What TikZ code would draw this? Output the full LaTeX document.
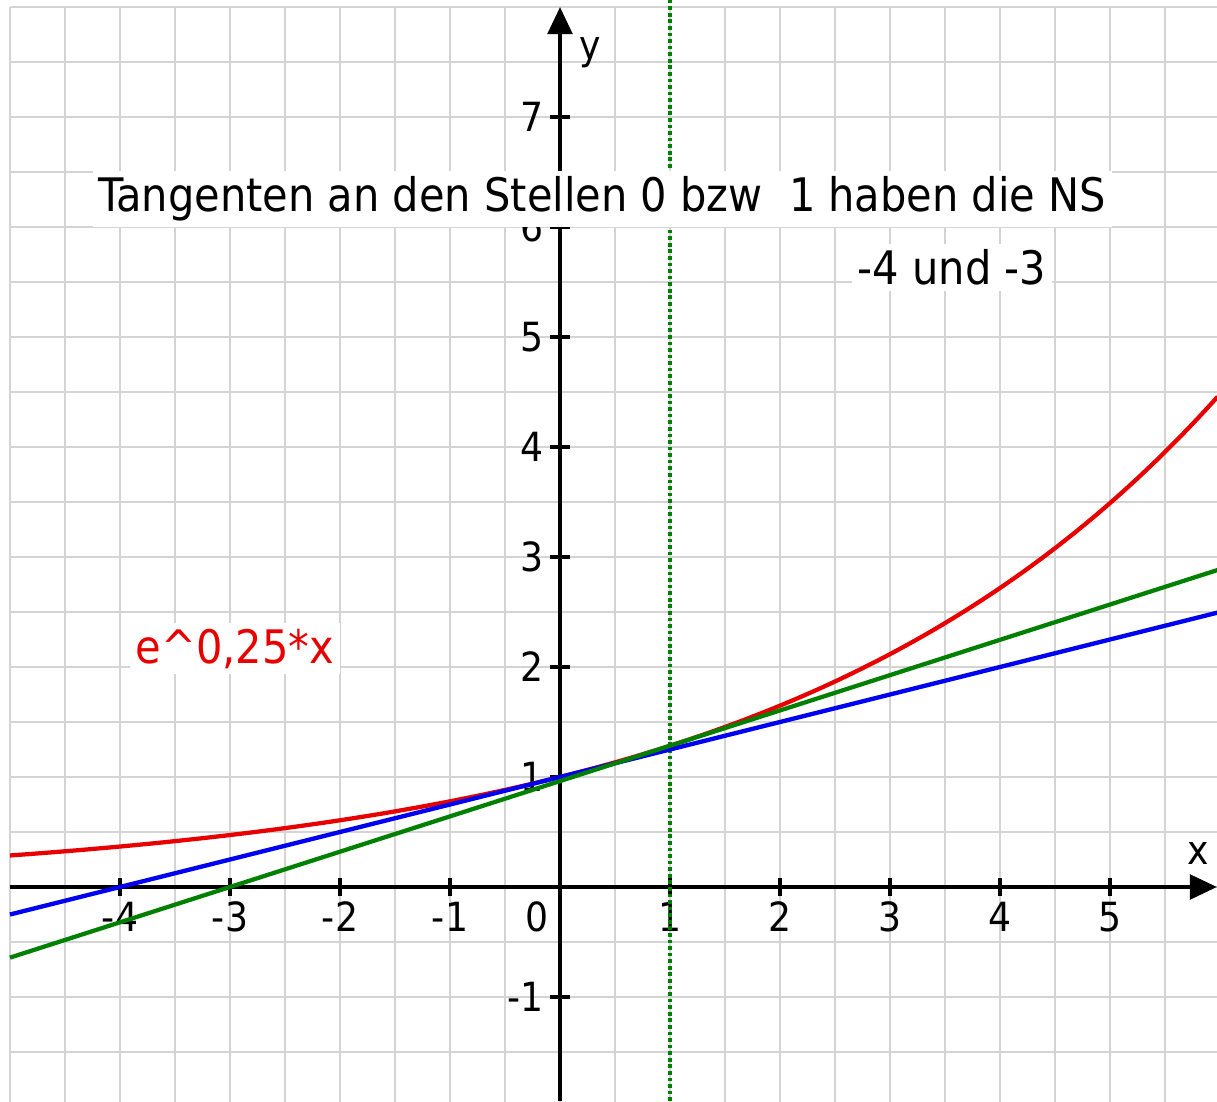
\documentclass[tikz,border=0pt]{standalone}
\usepackage{fontspec}
\setmainfont{DejaVu Sans Condensed}
\usetikzlibrary{arrows.meta}
\definecolor{gridgray}{RGB}{212,212,212}
\definecolor{fred}{RGB}{232,0,0}
\definecolor{fblue}{RGB}{0,0,240}
\definecolor{fgreen}{RGB}{0,128,0}
\begin{document}
\begin{tikzpicture}[x=1cm,y=1cm,
  gridline/.style={draw=gridgray, line width=0.45pt},
  axisline/.style={line width=1.1pt, -{Triangle[length=7pt,width=6.3pt]}},
  tickline/.style={line width=1.1pt},
  ticklabel/.style={font=\fontsize{10.4}{12}\selectfont, inner sep=0pt},
  graph/.style={line width=1.1pt},
  bigtext/.style={font=\fontsize{11.95}{14}\selectfont, fill=white, inner sep=1.5pt},
  dottedline/.style={draw=fgreen, line width=1.05pt, dash pattern=on 0.95pt off 0.75pt}
]
\useasboundingbox (-5.0909,-1.9455) rectangle (5.9727,8.0636);
\fill[white] (-5.0909,-1.9455) rectangle (5.9727,8.0636);
\clip (-5.0909,-1.9455) rectangle (5.9727,8.0636);
% grid
\draw[gridline, step=0.5] (-5,-2) grid (6.5,8);
% tick labels
\foreach \k in {-4,-3,-2,-1,1,2,3,4,5}
  \node[ticklabel, anchor=base] (xl\k) at (\k,-0.409) {\k};
\node[ticklabel, anchor=base] (xl0) at (-0.209,-0.409) {0};
\foreach \k in {-1,1,2,3,4,5,6,7}
  \node[ticklabel, anchor=east] (yl\k) at (-0.14,\k) {\k};
\node[ticklabel] (xname) at (5.8,0.3) {x};
\node[ticklabel] (yname) at (0.273,7.58) {y};
% axes
\coordinate (xs) at (-5,0);
\coordinate (xe) at (5.9727,0);
\coordinate (ys) at (0,-1.9455);
\coordinate (ye) at (0,8.0);
\draw[axisline] (xs) -- (xe);
\draw[axisline] (ys) -- (ye);
\foreach \k in {-4,-3,-2,-1,1,2,3,4,5}
  \draw[tickline] (\k,-0.085) -- (\k,0.085);
\foreach \k in {-1,1,2,3,4,5,6,7}
  \draw[tickline] (-0.09,\k) -- (0.09,\k);
% dotted vertical line at x=1
\coordinate (dtop) at (1,8.0636);
\coordinate (dbot) at (1,-1.9455);
\draw[dottedline] (dbot) -- (dtop);
% graphs
\draw[graph, fred, domain=-5:5.98, samples=120] plot (\x,{exp(0.25*\x)});
\draw[graph, fblue, domain=-5:5.98] plot (\x,{0.25*\x+1});
\draw[graph, fgreen, domain=-5:5.98] plot (\x,{exp(0.25)*(0.25*\x+0.75)});
% texts
\node[bigtext, anchor=base] (title) at (0.386,6.14) {Tangenten an den Stellen 0 bzw\ \ 1 haben die NS};
\node[bigtext, anchor=base] (ns) at (3.564,5.473) {-4 und -3};
\node[bigtext, anchor=base, text=fred] (flabel) at (-2.955,2.036) {e\textasciicircum 0,25*x};
\end{tikzpicture}
\end{document}
